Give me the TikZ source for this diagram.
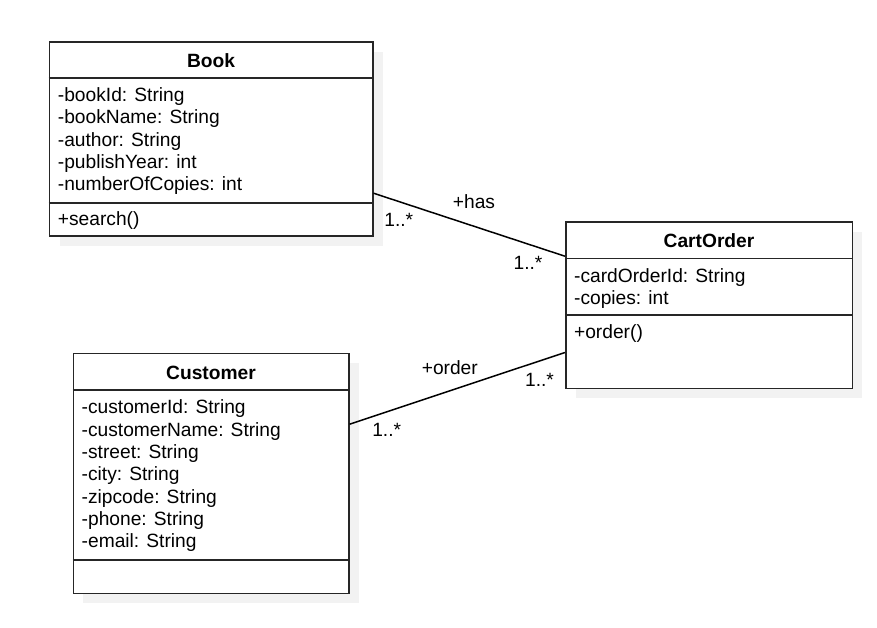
\documentclass[tikz,border=0pt]{standalone}
\usepackage{fontspec}
\setmainfont{Liberation Sans}
\usetikzlibrary{shadows}
\tikzset{
  classbox/.style={draw=black!85, line width=1.6pt, fill=white, inner sep=0pt,
    drop shadow={shadow xshift=10pt, shadow yshift=-10pt, fill=black!5, opacity=1}},
  divider/.style={draw=black!85, line width=1.6pt},
  ctitle/.style={inner sep=0pt, anchor=base, font=\fontsize{19.2pt}{22.3pt}\selectfont\bfseries},
  member/.style={inner sep=0pt, anchor=base west, font=\fontsize{19.2pt}{22.3pt}\selectfont},
  assoc/.style={draw=black, line width=1.5pt},
  lbl/.style={inner sep=0pt, anchor=base, font=\fontsize{19.2pt}{22.3pt}\selectfont}
}
\begin{document}
\begin{tikzpicture}[x=1pt,y=-1pt]
\useasboundingbox (0,0) rectangle (877,627);
% Book
\node[classbox, minimum width=323.2pt, minimum height=194.3pt] (book) at (211.1,138.85) {};
\draw[divider] ([yshift=-37pt]book.north west) -- ([yshift=-37pt]book.north east);
\draw[divider] ([yshift=-162pt]book.north west) -- ([yshift=-162pt]book.north east);
\node[ctitle] (booktitle) at ([yshift=-26.6pt]book.north) {Book};
\foreach \t [count=\i] in {-bookId: String,-bookName: String,-author: String,-publishYear: int,-numberOfCopies: int}
  \node[member] (bookattr\i) at ([xshift=9pt,yshift={-60.6pt-22.3pt*(\i-1)}]book.north west) {\t};
\node[member] (bookops) at ([xshift=9pt,yshift=-184.5pt]book.north west) {+search()};
% CartOrder
\node[classbox, minimum width=286.6pt, minimum height=166.6pt] (cart) at (709,305) {};
\draw[divider] ([yshift=-37.6pt]cart.north west) -- ([yshift=-37.6pt]cart.north east);
\draw[divider] ([yshift=-94.3pt]cart.north west) -- ([yshift=-94.3pt]cart.north east);
\node[ctitle] (carttitle) at ([yshift=-26.6pt]cart.north) {CartOrder};
\foreach \t [count=\i] in {-cardOrderId: String,-copies: int}
  \node[member] (cartattr\i) at ([xshift=9pt,yshift={-61.2pt-22.3pt*(\i-1)}]cart.north west) {\t};
\node[member] (cartops) at ([xshift=9pt,yshift=-117.3pt]cart.north west) {+order()};
% Customer
\node[classbox, minimum width=275.4pt, minimum height=240pt] (cust) at (211,473.3) {};
\draw[divider] ([yshift=-37.7pt]cust.north west) -- ([yshift=-37.7pt]cust.north east);
\draw[divider] ([yshift=-207.4pt]cust.north west) -- ([yshift=-207.4pt]cust.north east);
\node[ctitle] (custtitle) at ([yshift=-26.6pt]cust.north) {Customer};
\foreach \t [count=\i] in {-customerId: String,-customerName: String,-street: String,-city: String,-zipcode: String,-phone: String,-email: String}
  \node[member] (custattr\i) at ([xshift=9pt,yshift={-61.3pt-22.3pt*(\i-1)}]cust.north west) {\t};
% associations
\coordinate (hasA) at ([yshift=-152.3pt]book.north east);
\coordinate (hasB) at ([yshift=-35.3pt]cart.north west);
\draw[assoc] (hasA) -- (hasB);
\coordinate (ordA) at ([yshift=-71.7pt]cust.north east);
\coordinate (ordB) at ([yshift=-131.6pt]cart.north west);
\draw[assoc] (ordA) -- (ordB);
% labels
\node[lbl] (haslbl) at (474,208) {+has};
\node[lbl] (hasm1) at (398.8,226.9) {1..*};
\node[lbl] (hasm2) at (528,269.9) {1..*};
\node[lbl] (ordlbl) at (449.8,374.4) {+order};
\node[lbl] (ordm1) at (539.5,386.6) {1..*};
\node[lbl] (ordm2) at (386.7,436.9) {1..*};
\end{tikzpicture}
\end{document}
